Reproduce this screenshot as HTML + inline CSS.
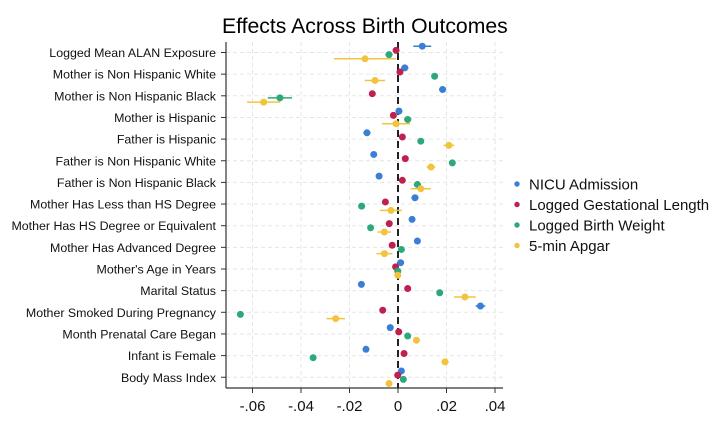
<!DOCTYPE html>
<html><head><meta charset="utf-8"><style>
html,body{margin:0;padding:0;background:#fff;}
svg{display:block;font-family:"Liberation Sans",Arial,sans-serif;}
</style></head><body>
<svg id="chart" width="726" height="436" viewBox="0 0 726 436">
<text x="222" y="33" font-size="21.2" text-anchor="start">Effects Across Birth Outcomes</text>
<g id="grid"></g><g id="axes"></g><g id="marks"></g><g id="legend"></g>
</svg>
<script>
const categories = ["Logged Mean ALAN Exposure","Mother is Non Hispanic White","Mother is Non Hispanic Black","Mother is Hispanic","Father is Hispanic","Father is Non Hispanic White","Father is Non Hispanic Black","Mother Has Less than HS Degree","Mother Has HS Degree or Equivalent","Mother Has Advanced Degree","Mother's Age in Years","Marital Status","Mother Smoked During Pregnancy","Month Prenatal Care Began","Infant is Female","Body Mass Index"];
const seriesNames = ["NICU Admission","Logged Gestational Length","Logged Birth Weight","5-min Apgar"];
const nicu = [0.010,0.0028,0.0184,0.0004,-0.0128,-0.010,-0.0078,0.007,0.0058,0.008,0.0011,-0.0151,0.034,-0.0032,-0.0132,0.0014];
const gest = [-0.0008,0.0008,-0.0106,-0.0019,0.0018,0.003,0.0018,-0.0052,-0.0036,-0.0024,-0.0010,0.004,-0.0063,0.0003,0.0025,-0.0001];
const bw = [-0.0037,0.0151,-0.0487,0.004,0.0094,0.0224,0.008,-0.015,-0.0113,0.0014,-0.0001,0.0172,-0.065,0.004,-0.035,0.0022];
const apgar = [-0.0136,-0.0095,-0.0554,-0.0008,0.021,0.0136,0.0094,-0.0029,-0.0056,-0.0056,-0.0001,0.0276,-0.0257,0.0076,0.0194,-0.0037];
const nicuCI = [0.0037,0.0015,0.0015,0.001,0.0015,0.0012,0.0012,0.0015,0.0012,0.001,0.0008,0.0012,0.002,0.0008,0.001,0.001];
const gestCI = [0.0005,0.0005,0.0005,0.0005,0.0005,0.0005,0.0005,0.0005,0.0005,0.0005,0.0005,0.0005,0.0005,0.0005,0.0005,0.0005];
const bwCI = [0.0015,0.001,0.005,0.0015,0.0008,0.0008,0.0015,0.0012,0.0008,0.0008,0.0005,0.0008,0.0012,0.0008,0.0008,0.0008];
const apgarCI = [0.0128,0.0042,0.0068,0.0058,0.0022,0.0018,0.0042,0.0045,0.0028,0.0033,0.0005,0.0045,0.0038,0.001,0.0015,0.001];
const xTicks = [-0.06,-0.04,-0.02,0,0.02,0.04];
const xTickLabels = ["-.06","-.04","-.02","0",".02",".04"];
const colors = ["#3a7fd5","#c0204f","#2ca87a","#f2c43d"];
const NS="http://www.w3.org/2000/svg";
const xs = v => 398 + v*2425;
const ys = i => 52.5 + i*21.65;
function mk(parent,tag,attrs){const e=document.createElementNS(NS,tag);for(const k in attrs)e.setAttribute(k,attrs[k]);document.getElementById(parent).appendChild(e);return e;}
const pTop=42,pBot=388,pLeft=226,pRight=503;
xTicks.forEach((t,i)=>{
  const g=mk('grid','line',{x1:xs(t),x2:xs(t),y1:pTop,y2:pBot,stroke:'#e6e6e6','stroke-dasharray':'4,3'});
  
  
  const tk=mk('axes','line',{x1:xs(t),x2:xs(t),y1:pBot,y2:pBot+5,stroke:'#333'});
  
  
  const lb=mk('axes','text',{x:xs(t),y:411,'font-size':15,'text-anchor':'middle',fill:'#111'});
  lb.textContent=xTickLabels[i];
  
  
});
categories.forEach((c,i)=>{
  const g=mk('grid','line',{x1:pLeft,x2:pRight,y1:ys(i),y2:ys(i),stroke:'#e6e6e6','stroke-dasharray':'4,3'});
  
  
  const tk=mk('axes','line',{x1:pLeft-5,x2:pLeft,y1:ys(i),y2:ys(i),stroke:'#333'});
  
  
  const lb=mk('axes','text',{x:216,y:ys(i)+4.5,'font-size':12.4,'text-anchor':'end',fill:'#111'});
  lb.textContent=c;
  
  
});
const al=mk('axes','line',{x1:pLeft,x2:pLeft,y1:pTop,y2:pBot,stroke:'#333','stroke-width':1.2});


const ab=mk('axes','line',{x1:pLeft,x2:pRight,y1:pBot,y2:pBot,stroke:'#333','stroke-width':1.2});


const zl=mk('axes','line',{x1:xs(0),x2:xs(0),y1:pTop,y2:pBot,stroke:'#222','stroke-width':2,'stroke-dasharray':'7,4'});


const vals=[nicu,gest,bw,apgar], cis=[nicuCI,gestCI,bwCI,apgarCI], offs=[-6.3,-2.1,2.1,6.3];
vals.forEach((arr,s)=>{
  arr.forEach((v,i)=>{
    const yy=ys(i)+offs[s];
    const l=mk('marks','line',{x1:xs(v-cis[s][i]),x2:xs(v+cis[s][i]),y1:yy,y2:yy,stroke:colors[s],'stroke-width':1.5});
    
    
    const p=mk('marks','circle',{cx:xs(v),cy:yy,r:3.5,fill:colors[s]});
    
    
  });
});
seriesNames.forEach((n,s)=>{
  const yy=184+s*20.5;
  const d=mk('legend','circle',{cx:517,cy:yy,r:2.7,fill:colors[s]});
  
  
  const t=mk('legend','text',{x:529,y:yy+5.5,'font-size':15,fill:'#111'});
  t.textContent=n;
  
  
});
</script>
</body></html>
